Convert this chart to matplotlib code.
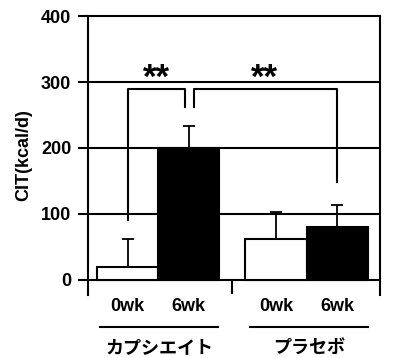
import matplotlib
matplotlib.use("Agg")
import matplotlib.pyplot as plt

# data
groups = ["カプシエイト", "プラセボ"]
weeks = ["0wk", "6wk", "0wk", "6wk"]
cit_mean = [20, 200, 62, 80]
cit_err = [42, 33, 41, 33]
bar_colors = ["white", "black", "white", "black"]
yticks = [0, 100, 200, 300, 400]

x = [0, 1, 2.43, 3.43]

plt.rcParams['font.family'] = ['Liberation Sans', 'DejaVu Sans']

fig = plt.figure(figsize=(4.05, 3.58), dpi=100)
ax = fig.add_axes([0.217, 0.176, 0.721, 0.779])

# horizontal grid lines
for y in yticks[:-1]:
    ax.axhline(y, color="black", lw=1.5, zorder=1)

ax.bar(x, cit_mean, width=1.0, color=bar_colors, edgecolor="black",
       linewidth=1.5, zorder=3)
ax.errorbar(x, cit_mean, yerr=[[0] * 4, cit_err], fmt="none",
            ecolor="black", elinewidth=1.3, capsize=4.5, capthick=1.3, zorder=2)

ax.set_xlim(-0.65, 4.13)
ax.set_ylim(-23, 400)
ax.set_yticks(yticks)
ax.set_yticklabels([str(v) for v in yticks], fontsize=13, fontweight="bold")
ax.tick_params(axis="y", length=7, width=1.5, pad=5)
ax.set_xticks([])
ax.set_ylabel("CIT(kcal/d)", fontsize=13, fontweight="bold", labelpad=6)

for side in ["left", "right", "top"]:
    ax.spines[side].set_linewidth(1.5)
ax.spines["bottom"].set_visible(False)

# middle tick between groups
ax.plot([1.71, 1.71], [0, -20], color="black", lw=1.5, zorder=1)

# significance brackets
ax.plot([0, 0, 0.94, 0.94], [91, 289, 289, 262], color="black", lw=1.5)
ax.plot([1.09, 1.09, 3.43, 3.43], [262, 289, 289, 148], color="black", lw=1.5)
ax.text(0.48, 306, "**", ha="center", va="center", fontsize=25, fontweight="bold")
ax.text(2.24, 306, "**", ha="center", va="center", fontsize=25, fontweight="bold")

# category labels under the axis
tr = ax.get_xaxis_transform()
for xi, lab in zip(x, weeks):
    ax.text(xi, -0.043, lab, transform=tr, ha="center", va="center",
            fontsize=13, fontweight="bold")
group_spans = [(-0.45, 1.48), (2.01, 3.93)]
for (x0, x1), g in zip(group_spans, groups):
    ax.plot([x0, x1], [-0.115, -0.115], transform=tr, color="black",
            lw=1.5, clip_on=False)
    ax.text((x0 + x1) / 2, -0.19, g, transform=tr, ha="center", va="center",
            fontsize=13, fontweight="bold",
            family=["Noto Sans CJK JP", "DejaVu Sans"])

fig.savefig("out.png", dpi=100)
